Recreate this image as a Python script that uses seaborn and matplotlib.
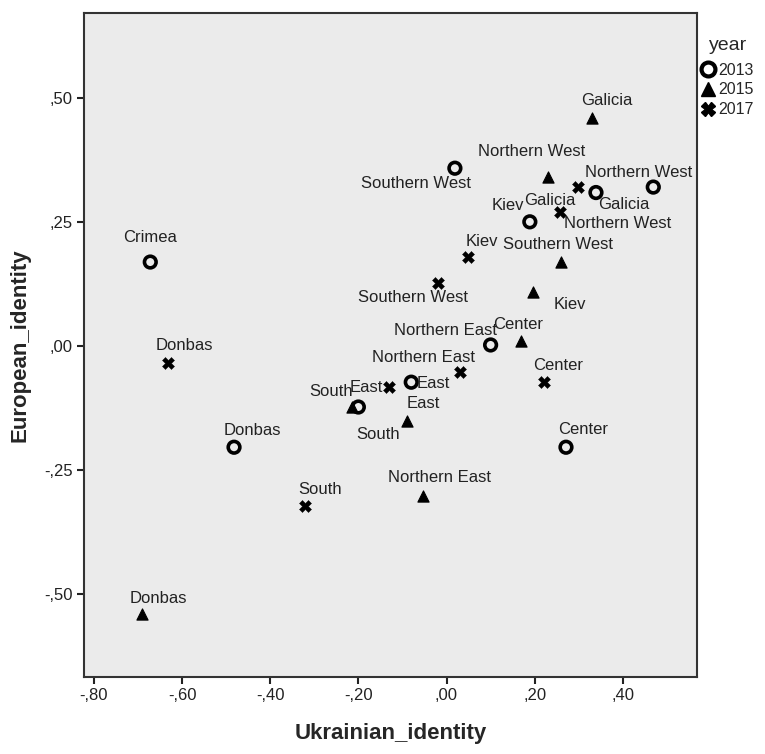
import matplotlib
matplotlib.use("Agg")
import matplotlib.pyplot as plt
import seaborn as sns
import pandas as pd
from matplotlib.lines import Line2D

# regional means per survey year
regions_2013 = ["Crimea", "Donbas", "South", "East", "Northern East", "Center",
                "Kiev", "Southern West", "Galicia", "Northern West"]
ukr_2013 = [-0.672, -0.482, -0.200, -0.080, 0.100, 0.271, 0.189, 0.019, 0.339, 0.469]
eur_2013 = [0.169, -0.204, -0.123, -0.073, 0.002, -0.204, 0.250, 0.358, 0.309, 0.320]

regions_2015 = ["Galicia", "Northern West", "Southern West", "Kiev", "Center",
                "East", "South", "Northern East", "Donbas"]
ukr_2015 = [0.329, 0.231, 0.260, 0.197, 0.170, -0.090, -0.215, -0.053, -0.690]
eur_2015 = [0.460, 0.340, 0.170, 0.109, 0.009, -0.151, -0.122, -0.302, -0.540]

regions_2017 = ["Donbas", "South", "East", "Northern East", "Center",
                "Southern West", "Kiev", "Galicia", "Northern West"]
ukr_2017 = [-0.631, -0.321, -0.130, 0.031, 0.220, -0.019, 0.049, 0.299, 0.257]
eur_2017 = [-0.034, -0.323, -0.083, -0.052, -0.072, 0.127, 0.179, 0.320, 0.269]

x_ticks = [-0.8, -0.6, -0.4, -0.2, 0.0, 0.2, 0.4]
x_tick_labels = ["-,80", "-,60", "-,40", "-,20", ",00", ",20", ",40"]
y_ticks = [-0.5, -0.25, 0.0, 0.25, 0.5]
y_tick_labels = ["-,50", "-,25", ",00", ",25", ",50"]

df = pd.concat([
    pd.DataFrame({"region": regions_2013, "Ukrainian_identity": ukr_2013,
                  "European_identity": eur_2013, "year": "2013"}),
    pd.DataFrame({"region": regions_2015, "Ukrainian_identity": ukr_2015,
                  "European_identity": eur_2015, "year": "2015"}),
    pd.DataFrame({"region": regions_2017, "Ukrainian_identity": ukr_2017,
                  "European_identity": eur_2017, "year": "2017"}),
], ignore_index=True)

# where each point label sits, in pixels from the point
label_offsets = {
    ("2013", "Crimea"): (0, 25), ("2013", "Donbas"): (18, 17),
    ("2013", "South"): (-27, 16), ("2013", "East"): (22, -1),
    ("2013", "Northern East"): (-45, 14), ("2013", "Center"): (17, 18),
    ("2013", "Kiev"): (-22, 16), ("2013", "Southern West"): (-39, -15),
    ("2013", "Galicia"): (28, -12), ("2013", "Northern West"): (-15, 15),
    ("2015", "Galicia"): (15, 17), ("2015", "Northern West"): (-17, 26),
    ("2015", "Southern West"): (-3, 17), ("2015", "Kiev"): (37, -13),
    ("2015", "Center"): (-3, 17), ("2015", "East"): (16, 17),
    ("2015", "South"): (26, -28), ("2015", "Northern East"): (16, 18),
    ("2015", "Donbas"): (16, 16),
    ("2017", "Donbas"): (16, 17), ("2017", "South"): (15, 17),
    ("2017", "East"): (-23, 0), ("2017", "Northern East"): (-37, 14),
    ("2017", "Center"): (15, 16), ("2017", "Southern West"): (-25, -15),
    ("2017", "Kiev"): (14, 16), ("2017", "Galicia"): (-29, -13),
    ("2017", "Northern West"): (58, -11),
}

sns.set_style("white")
plt.rcParams["font.family"] = ["Liberation Sans", "DejaVu Sans"]

fig = plt.figure(figsize=(7.65, 7.54), dpi=100)
ax = fig.add_axes([0.110, 0.102, 0.801, 0.881])
ax.set_facecolor("#ebebeb")

styles = {
    "2013": dict(marker="o", s=70, facecolors="none", edgecolors="black", linewidths=2.6),
    "2015": dict(marker="^", s=65, color="black", edgecolors="black", linewidths=0.8),
    "2017": dict(marker="X", s=75, color="black", edgecolors="black", linewidths=0.3),
}
for yr, sub in df.groupby("year"):
    sns.scatterplot(data=sub, x="Ukrainian_identity", y="European_identity",
                    ax=ax, legend=False, zorder=3, **styles[yr])
    for _, row in sub.iterrows():
        dx, dy = label_offsets[(yr, row["region"])]
        ax.annotate(row["region"], (row["Ukrainian_identity"], row["European_identity"]),
                    xytext=(dx, dy), textcoords="offset pixels",
                    ha="center", va="center", fontsize=12, color="#222222")

ax.set_xlim(-0.822, 0.568)
ax.set_ylim(-0.667, 0.671)
ax.set_xticks(x_ticks)
ax.set_xticklabels(x_tick_labels)
ax.set_yticks(y_ticks)
ax.set_yticklabels(y_tick_labels)
ax.tick_params(axis="both", direction="out", length=5, width=1.5, colors="#222222",
               labelsize=12, bottom=True, left=True, pad=3)
for sp in ax.spines.values():
    sp.set_color("#333333")
    sp.set_linewidth(1.5)

ax.set_xlabel("Ukrainian_identity", fontsize=16, fontweight="bold", labelpad=14)
ax.set_ylabel("European_identity", fontsize=16, fontweight="bold", labelpad=10)

handles = [
    Line2D([], [], ls="none", marker="o", markersize=10, markerfacecolor="none",
           markeredgecolor="black", markeredgewidth=3),
    Line2D([], [], ls="none", marker="^", markersize=10, color="black"),
    Line2D([], [], ls="none", marker="X", markersize=10, color="black"),
]
leg = ax.legend(handles, ["2013", "2015", "2017"], title="year", frameon=False,
                loc="upper left", bbox_to_anchor=(0.99, 0.98), handlelength=0.8,
                handletextpad=0.2, labelspacing=0.3, borderpad=0.2, fontsize=11.5,
                title_fontsize=14)
leg._legend_box.sep = 6

fig.savefig("out.png", dpi=100, facecolor="white")
